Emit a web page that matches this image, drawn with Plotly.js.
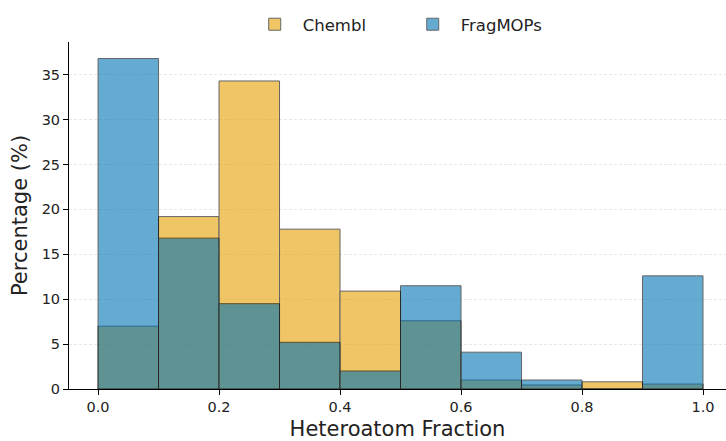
<!DOCTYPE html>
<html>
<head>
<meta charset="utf-8">
<script src="https://cdn.plot.ly/plotly-3.0.1.min.js"></script>
<style>
  html, body { margin: 0; padding: 0; background: #fff; }
  #chart { width: 726px; height: 441px; }
</style>
</head>
<body>
<div id="chart"></div>
<script>
// Bin edges of the heteroatom-fraction histogram
const binEdges = [0.0, 0.1, 0.2, 0.3, 0.4, 0.5, 0.6, 0.7, 0.8, 0.9, 1.0];

// Percentage of molecules per bin
const chemblPct   = [7.0, 19.2, 34.3, 17.8, 10.9, 7.6, 1.0, 0.45, 0.8, 0.55];
const fragmopsPct = [36.8, 16.8, 9.5, 5.2, 2.0, 11.5, 4.1, 1.0, 0.0, 12.6];

const seriesNames = ['Chembl', 'FragMOPs'];
const seriesColors = ['#E69F00', '#0072B2'];

const binCenters = binEdges.slice(0, -1).map((e, i) => (e + binEdges[i + 1]) / 2);
const binWidths = binEdges.slice(0, -1).map((e, i) => binEdges[i + 1] - e);

const makeTrace = (name, values, color) => ({
  type: 'bar',
  name: name,
  x: binCenters,
  y: values,
  width: binWidths,
  opacity: 0.6,
  marker: { color: color, line: { color: '#000', width: 1 } },
  hoverinfo: 'x+y+name'
});

const data = [
  makeTrace(seriesNames[0], chemblPct, seriesColors[0]),
  makeTrace(seriesNames[1], fragmopsPct, seriesColors[1])
];

const font = 'DejaVu Sans, sans-serif';

const layout = {
  width: 726,
  height: 441,
  margin: { l: 69, r: 0, t: 42, b: 52 },
  paper_bgcolor: '#fff',
  plot_bgcolor: '#fff',
  barmode: 'overlay',
  bargap: 0,
  showlegend: true,
  legend: {
    orientation: 'h',
    x: 0.511, xanchor: 'center',
    y: 1.0, yanchor: 'bottom',
    font: { family: font, size: 16.5, color: '#222' },
    itemwidth: 46,
    entrywidth: 97,
    entrywidthmode: 'pixels',
    traceorder: 'normal'
  },
  xaxis: {
    range: [-0.048, 1.038],
    tickvals: [0, 0.2, 0.4, 0.6, 0.8, 1.0],
    ticktext: ['0.0', '0.2', '0.4', '0.6', '0.8', '1.0'],
    ticks: 'outside', ticklen: 5, tickwidth: 1, tickcolor: '#000',
    showline: true, linecolor: '#000', linewidth: 1,
    showgrid: false, zeroline: false,
    tickfont: { family: font, size: 14.5, color: '#222' },
    title: { text: 'Heteroatom Fraction', font: { family: font, size: 21, color: '#222' }, standoff: 6 }
  },
  yaxis: {
    range: [0, 38.64],
    tickvals: [0, 5, 10, 15, 20, 25, 30, 35],
    ticks: 'outside', ticklen: 5, tickwidth: 1, tickcolor: '#000',
    showline: true, linecolor: '#000', linewidth: 1,
    showgrid: true, gridcolor: '#e2e2e2', griddash: '3px,2px', gridwidth: 0.8,
    zeroline: false,
    tickfont: { family: font, size: 14.5, color: '#222' },
    title: { text: 'Percentage (%)', font: { family: font, size: 21, color: '#222' }, standoff: 8 }
  }
};

Plotly.newPlot('chart', data, layout, { displayModeBar: false, staticPlot: true });
</script>
</body>
</html>
